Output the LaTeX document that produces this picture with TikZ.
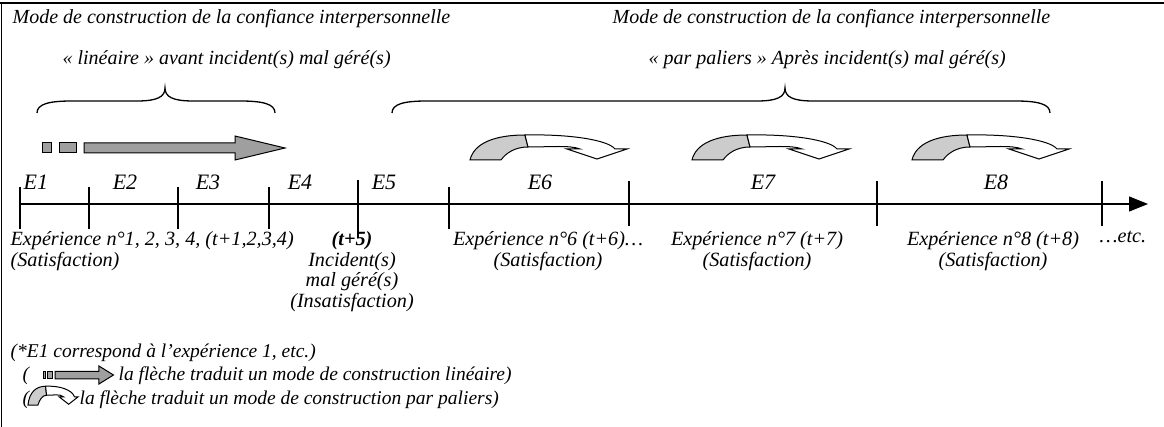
\documentclass[tikz,border=0pt]{standalone}
\usepackage{fontspec}
\setmainfont{Liberation Serif}
\usetikzlibrary{arrows.meta, positioning}

\newcommand\accolade[3]{%
  \draw[line width=1.3pt] (#1,113) .. controls (#1,104) and (#1+12,101) .. (#1+35,101)
    -- (#2-28,101) .. controls (#2-8,101) and (#2,97) .. (#2,88)
    .. controls (#2,97) and (#2+8,101) .. (#2+28,101)
    -- (#3-35,101) .. controls (#3-12,101) and (#3,104) .. (#3,113);}

\tikzset{
  titre/.style={font=\fontsize{20}{24}\selectfont\itshape, inner sep=0pt},
  etape/.style={font=\fontsize{22}{26}\selectfont\itshape, inner sep=0pt},
  legende/.style={font=\fontsize{20.2}{20.5}\selectfont\itshape, inner sep=0pt, align=center},
  note/.style={font=\fontsize{19.5}{24}\selectfont\itshape, inner sep=0pt},
  lineaire/.pic={
    \filldraw[fill=gray!75, line width=1pt] (0,-5) rectangle (9,5);
    \filldraw[fill=gray!75, line width=1pt] (17,-5) rectangle (34,5);
    \filldraw[fill=gray!75, line width=1pt] (42,-5) -- (193,-5) -- (193,-12) -- (243,0)
      -- (193,12) -- (193,5) -- (42,5) -- cycle;
  },
  palier/.pic={
    \filldraw[fill=gray!40, line width=1pt] (0,0) .. controls (4,-17) and (25,-25) .. (55,-25)
      -- (58,-13) .. controls (45,-13) and (36,-7) .. (31,0) -- cycle;
    \filldraw[fill=white, line width=1pt] (55,-25) .. controls (100,-26) and (138,-20) .. (145,-11)
      -- (157,-11) -- (127,-1) -- (97,-11) -- (110,-11)
      .. controls (100,-15) and (80,-13) .. (58,-13) -- cycle;
  }
}

\begin{document}
\begin{tikzpicture}[x=1pt, y=-1pt, line width=1.2pt]
\useasboundingbox (0,0) rectangle (1164,427);
\draw[line width=2.5pt] (0,3) -- (1164,3);
\draw[line width=1pt] (1,3) -- (1,427);

\path (12,24) node[titre, anchor=base west] (titreG) {Mode de construction de la confiance interpersonnelle};
\path (62,65) node[titre, anchor=base west] (modeG) {« linéaire » avant incident(s) mal géré(s)};
\path (612,24) node[titre, anchor=base west] (titreD) {Mode de construction de la confiance interpersonnelle};
\path (648,65) node[titre, anchor=base west] (modeD) {« par paliers » Après incident(s) mal géré(s)};

\accolade{37}{165}{275}
\accolade{392}{785}{1050}

\pic at (42,148) {lineaire};
\foreach \x in {470,692,912}
  \pic at (\x,160) {palier};

\coordinate (debut) at (20,204);
\coordinate (fin) at (1148,204);
\draw[-{Triangle[length=19pt,width=15pt]}] (debut) -- (fin);
\foreach \x in {20,89,178,269,449}
  \draw (\x,187) -- (\x,229);
\foreach \x in {629,877,1102}
  \draw (\x,181) -- (\x,226);
\draw[line width=2.8pt] (358,180) -- (358,238);

\path (23,190) node[etape, anchor=base west] (e1) {E1};
\path (125,190) node[etape, anchor=base] (e2) {E2};
\path (208,190) node[etape, anchor=base] (e3) {E3};
\path (300,190) node[etape, anchor=base] (e4) {E4};
\path (384,190) node[etape, anchor=base] (e5) {E5};
\path (540,190) node[etape, anchor=base] (e6) {E6};
\path (763,190) node[etape, anchor=base] (e7) {E7};
\path (996,190) node[etape, anchor=base] (e8) {E8};

\path (10,231) node[legende, anchor=north west, align=left] (exp1) {Expérience n°1, 2, 3, 4, (t+1,2,3,4)\\(Satisfaction)};
\path (352,231) node[legende, anchor=north] (exp5) {\textbf{(t+5)}\\Incident(s)\\mal géré(s)\\(Insatisfaction)};
\path (548,231) node[legende, anchor=north] (exp6) {Expérience n°6 (t+6)…\\(Satisfaction)};
\path (757,231) node[legende, anchor=north] (exp7) {Expérience n°7 (t+7)\\(Satisfaction)};
\path (993,231) node[legende, anchor=north] (exp8) {Expérience n°8 (t+8)\\(Satisfaction)};
\path (1099,231) node[legende, anchor=north west] (etc) {…etc.};

\path (10,357) node[note, anchor=base west] (nota) {(*E1 correspond à l’expérience 1, etc.)};
\path (22,381) node[note, anchor=base west] (par1) {(};
\pic[xscale=0.29, yscale=0.75] at (43,375) {lineaire};
\path (118,381) node[note, anchor=base west] (lin) {la flèche traduit un mode de construction linéaire)};
\path (22,404) node[note, anchor=base west] (par2) {(};
\pic[xscale=0.32, yscale=0.75] at (28,405) {palier};
\path (79,404) node[note, anchor=base west] (pal) {la flèche traduit un mode de construction par paliers)};
\end{tikzpicture}
\end{document}
